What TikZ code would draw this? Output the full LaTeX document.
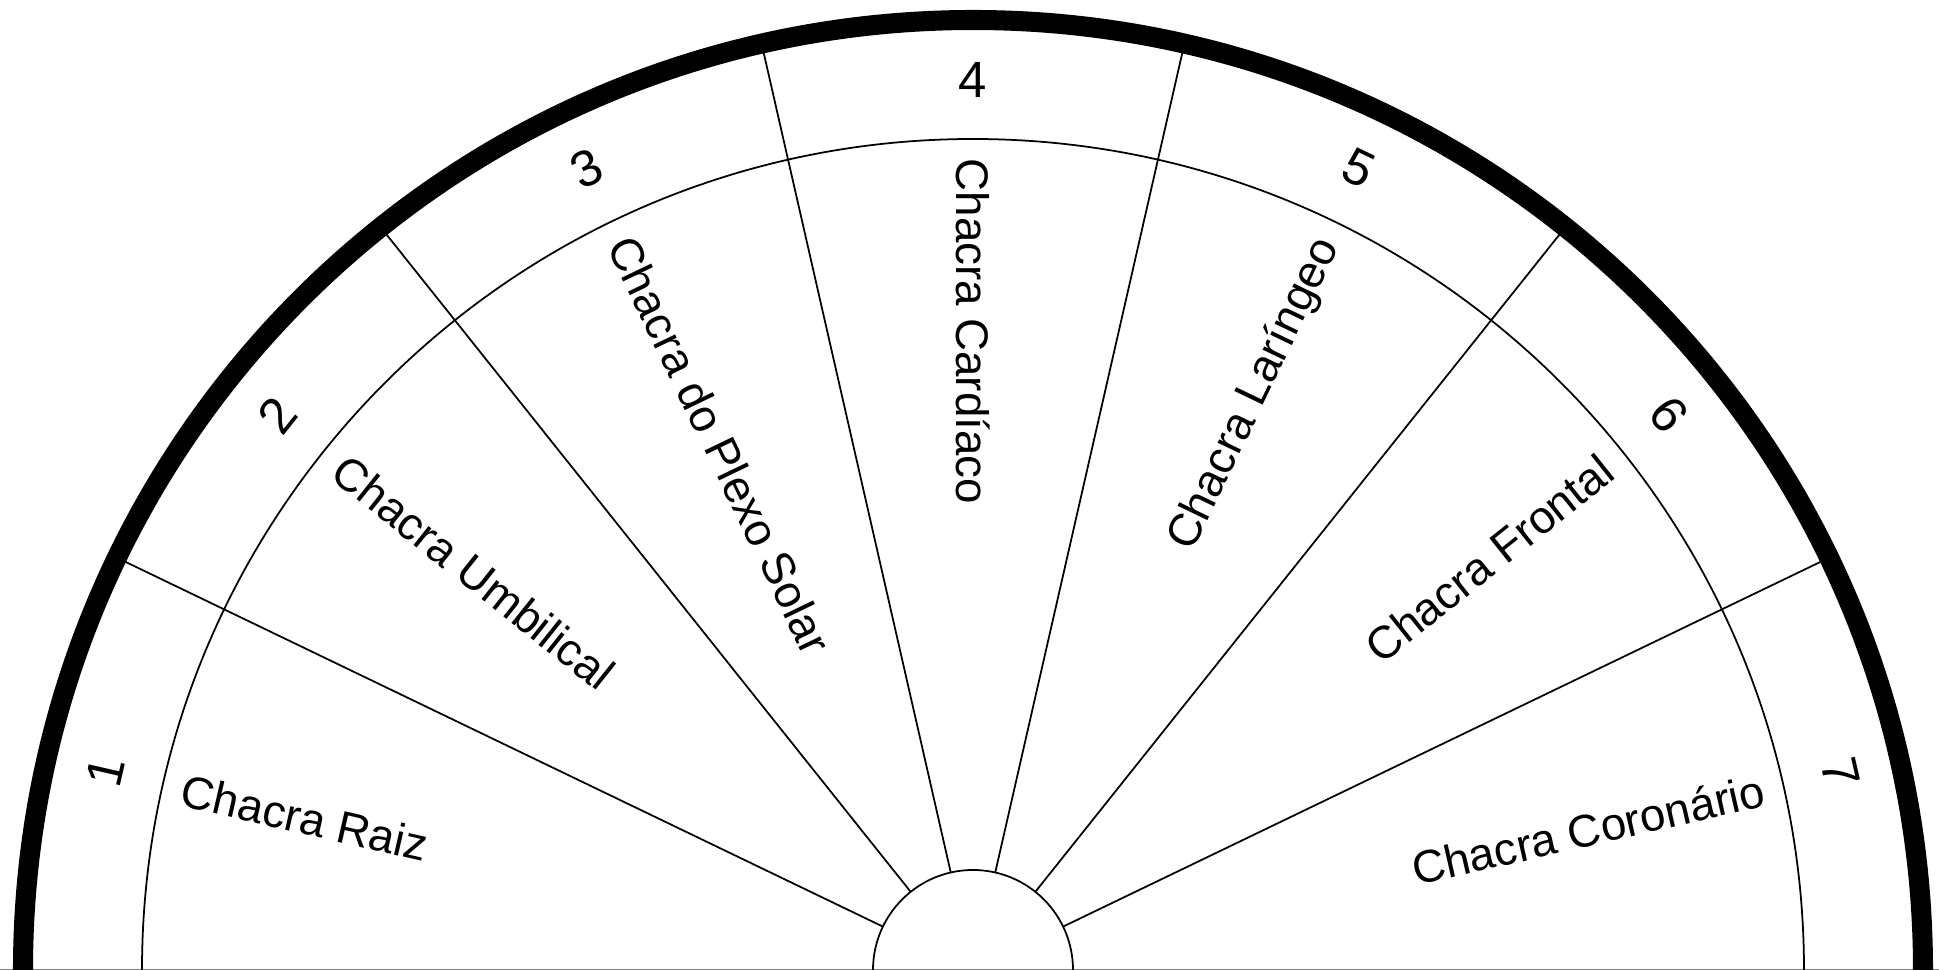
\documentclass[tikz,border=0pt]{standalone}
\usepackage{fontspec}
\setmainfont{Liberation Sans}
\usetikzlibrary{positioning}

\begin{document}
\begin{tikzpicture}[
    rimline/.style={line width=5.7pt},
    thinline/.style={line width=0.5pt},
    chacraname/.style={inner sep=0pt, text height=0.33cm, text depth=0pt,
      font=\fontsize{13}{15}\selectfont},
    chacranum/.style={inner sep=0pt, font=\fontsize{14.5}{17}\selectfont}
  ]
    \useasboundingbox (0,0) rectangle (19.39,9.70);
    \draw[gray, line width=0.4pt] (0,0.005) -- (19.39,0.005);
  \begin{scope}[shift={(9.73,0)}]
    % rings
    \draw[rimline] (9.50,0) arc[start angle=0, end angle=180, radius=9.50];
    \draw[thinline] (8.31,0) arc[start angle=0, end angle=180, radius=8.31];
    \draw[thinline] (1.00,0) arc[start angle=0, end angle=180, radius=1.00];
    % sector borders
    \draw[thinline] (25.714:1) -- (25.714:9.5);
    \draw[thinline] (51.429:1) -- (51.429:9.5);
    \draw[thinline] (77.143:1) -- (77.143:9.5);
    \draw[thinline] (102.857:1) -- (102.857:9.5);
    \draw[thinline] (128.571:1) -- (128.571:9.5);
    \draw[thinline] (154.286:1) -- (154.286:9.5);
    % numbers
    \node[chacranum, rotate=77.143]  (n1) at (167.143:8.90) {1};
    \node[chacranum, rotate=51.429]  (n2) at (141.429:8.90) {2};
    \node[chacranum, rotate=25.714]  (n3) at (115.714:8.90) {3};
    \node[chacranum]                 (n4) at (90:8.90)      {4};
    \node[chacranum, rotate=-25.714] (n5) at (64.286:8.90)  {5};
    \node[chacranum, rotate=-51.429] (n6) at (38.571:8.90)  {6};
    \node[chacranum, rotate=-77.143] (n7) at (12.857:8.90)  {7};
    % names
    \node[chacraname, anchor=west, rotate=-12.857] (raiz)      at (167.143:8.12) {Chacra Raiz};
    \node[chacraname, anchor=west, rotate=-38.571] (umbilical) at (141.429:8.12) {Chacra Umbilical};
    \node[chacraname, anchor=west, rotate=-64.286] (plexo)     at (115.714:8.12) {Chacra do Plexo Solar};
    \node[chacraname, anchor=west, rotate=-90]     (cardiaco)  at (90:8.12)      {Chacra Cardíaco};
    \node[chacraname, anchor=east, rotate=64.286]  (laringeo)  at (64.286:8.12)  {Chacra Laríngeo};
    \node[chacraname, anchor=east, rotate=38.571]  (frontal)   at (38.571:8.12)  {Chacra Frontal};
    \node[chacraname, anchor=east, rotate=12.857]  (coronario) at (12.857:8.12)  {Chacra Coronário};
  \end{scope}
\end{tikzpicture}
\end{document}
